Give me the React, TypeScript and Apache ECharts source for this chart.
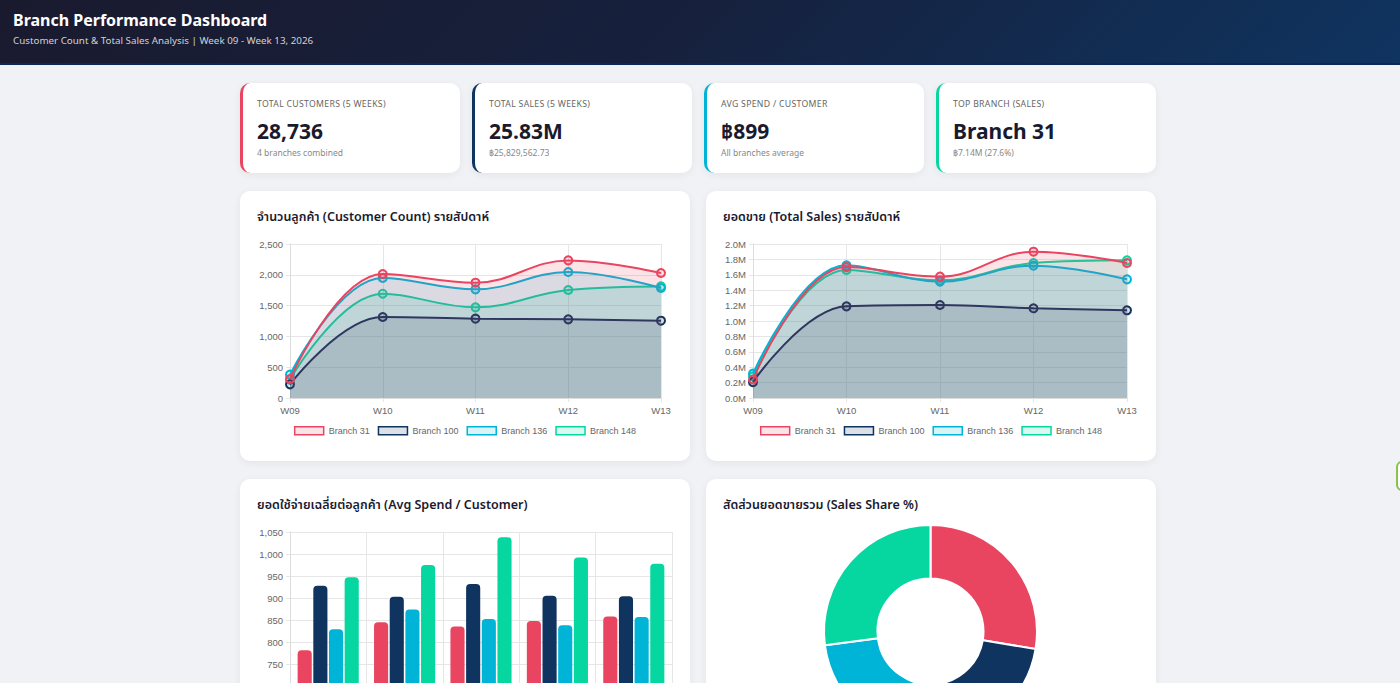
import React, { useEffect, useRef } from "react";
import * as echarts from "echarts";

const weeks = ["W09", "W10", "W11", "W12", "W13"];
const branches = ["Branch 31", "Branch 100", "Branch 136", "Branch 148"];
const branchColors = ["#e94560", "#0f3460", "#00b4d8", "#06d6a0"];
const branchFills = [
  "rgba(233,69,96,0.15)",
  "rgba(15,52,96,0.15)",
  "rgba(0,180,216,0.15)",
  "rgba(6,214,160,0.15)",
];

const customers31 = [308, 2013, 1872, 2234, 2029];
const customers100 = [222, 1315, 1288, 1277, 1255];
const customers136 = [379, 1948, 1764, 2045, 1785];
const customers148 = [298, 1693, 1472, 1753, 1812];

const sales31 = [240000, 1700000, 1576000, 1900000, 1753000];
const sales100 = [206000, 1190000, 1208000, 1165000, 1139000];
const sales136 = [316000, 1723000, 1511000, 1719000, 1541000];
const sales148 = [282000, 1662000, 1528000, 1753000, 1788000];

const avgSpend31 = [781, 845, 835, 848, 858];
const avgSpend100 = [928, 903, 932, 905, 904];
const avgSpend136 = [829, 874, 852, 838, 857];
const avgSpend148 = [947, 975, 1038, 992, 978];

const salesShare = [7138000, 4905000, 6800000, 6987000];

const customerTicks = { min: 0, max: 2500, interval: 500 };
const salesTicks = { min: 0, max: 2000000, interval: 200000 };
const spendTicks = { min: 700, max: 1050, interval: 50 };

const kpis = [
  { label: "TOTAL CUSTOMERS (5 WEEKS)", value: "28,736", sub: "4 branches combined", color: "#e94560" },
  { label: "TOTAL SALES (5 WEEKS)", value: "25.83M", sub: "฿25,829,562.73", color: "#0f3460" },
  { label: "AVG SPEND / CUSTOMER", value: "฿899", sub: "All branches average", color: "#00b4d8" },
  { label: "TOP BRANCH (SALES)", value: "Branch 31", sub: "฿7.14M (27.6%)", color: "#06d6a0" },
];

const UI_FONT = '"Segoe UI", "Noto Sans", "Noto Sans Thai", "Open Sans", sans-serif';
const CHART_FONT = '"Liberation Sans", Arial, Helvetica, sans-serif';
const GRID = "#e6e6e6";

const fmtComma = (v: number) => v.toLocaleString("en-US");

function axisCommon() {
  return {
    axisLine: { show: true, lineStyle: { color: "#dcdcdc", width: 1 } },
    axisTick: { show: true, length: 4, lineStyle: { color: GRID } },
    splitLine: { show: true, lineStyle: { color: GRID, width: 1 } },
  };
}

function lineOption(data: number[][], ticks: any, fmt: (v: number) => string, left: number) {
  return {
    animation: false,
    grid: { left, right: 29, top: 53, bottom: 63 },
    legend: {
      top: 230,
      left: "center",
      icon: "rect",
      itemWidth: 29,
      itemHeight: 8,
      itemGap: 8,
      textStyle: { color: "#666", fontSize: 9, fontFamily: CHART_FONT },
      data: branches.map((n, i) => ({
        name: n,
        itemStyle: { color: branchFills[i], borderColor: branchColors[i], borderWidth: 1.5 },
      })),
    },
    xAxis: {
      type: "category",
      data: weeks,
      boundaryGap: false,
      ...axisCommon(),
      axisLabel: { color: "#666", fontSize: 9.5, fontFamily: CHART_FONT, margin: 7 },
    },
    yAxis: {
      type: "value",
      min: ticks.min,
      max: ticks.max,
      interval: ticks.interval,
      ...axisCommon(),
      axisLabel: { color: "#666", fontSize: 9.5, fontFamily: CHART_FONT, margin: 7, formatter: fmt },
    },
    series: data.map((d, i) => ({
      type: "line",
      name: branches[i],
      data: d,
      smooth: 0.4,
      z: 5 - i,
      symbol: "circle",
      symbolSize: 8,
      lineStyle: { color: branchColors[i], width: 2 },
      itemStyle: { color: branchFills[i], borderColor: branchColors[i], borderWidth: 2 },
      areaStyle: { color: branchFills[i], origin: "start", opacity: 1 },
    })),
  };
}

function barOption() {
  const data = [avgSpend31, avgSpend100, avgSpend136, avgSpend148];
  return {
    animation: false,
    grid: { left: 50, right: 18, top: 53, bottom: 63 },
    xAxis: {
      type: "category",
      data: weeks,
      ...axisCommon(),
      axisLabel: { color: "#666", fontSize: 9.5, fontFamily: CHART_FONT, margin: 8 },
    },
    yAxis: {
      type: "value",
      min: spendTicks.min,
      max: spendTicks.max,
      interval: spendTicks.interval,
      ...axisCommon(),
      axisLabel: { color: "#666", fontSize: 9.5, fontFamily: CHART_FONT, margin: 7, formatter: fmtComma },
    },
    series: data.map((d, i) => ({
      type: "bar",
      name: branches[i],
      data: d,
      barCategoryGap: "20%",
      barGap: "11%",
      itemStyle: { color: branchColors[i], borderRadius: [4, 4, 0, 0] },
    })),
  };
}

function pieOption() {
  return {
    animation: false,
    series: [
      {
        type: "pie",
        radius: [53, 106.5],
        center: [224.5, 152.5],
        startAngle: 90,
        clockwise: true,
        label: { show: false },
        labelLine: { show: false },
        itemStyle: { borderColor: "#fff", borderWidth: 2 },
        data: branches.map((n, i) => ({ name: n, value: salesShare[i], itemStyle: { color: branchColors[i] } })),
      },
    ],
  };
}

function Chart({ option }: { option: any }) {
  const ref = useRef<HTMLDivElement>(null);
  useEffect(() => {
    if (!ref.current) return;
    const chart = echarts.init(ref.current, null, { renderer: "svg" });
    chart.setOption(option);
    return () => chart.dispose();
  }, [option]);
  return <div ref={ref} style={{ position: "absolute", left: 0, top: 0, width: 450, height: 270 }} />;
}

const cardStyle: React.CSSProperties = {
  position: "absolute",
  background: "#fff",
  borderRadius: 10,
  boxShadow: "0 2px 8px rgba(0,0,0,0.06)",
  overflow: "hidden",
};

function ChartCard({ x, y, title, option }: { x: number; y: number; title: string; option: any }) {
  return (
    <div style={{ ...cardStyle, left: x, top: y, width: 450, height: 270 }}>
      <Chart option={option} />
      <div
        style={{
          position: "absolute",
          left: 17,
          top: 18,
          fontFamily: UI_FONT,
          fontSize: 12.5,
          lineHeight: "16px",
          fontWeight: 600,
          color: "#1a1a2e",
          whiteSpace: "nowrap",
        }}
      >
        {title}
      </div>
    </div>
  );
}

const opt1 = lineOption([customers31, customers100, customers136, customers148], customerTicks, fmtComma, 50);
const opt2 = lineOption([sales31, sales100, sales136, sales148], salesTicks, (v: number) => (v / 1e6).toFixed(1) + "M", 47);
const opt3 = barOption();
const opt4 = pieOption();

export default function App() {
  useEffect(() => {
    document.body.style.margin = "0";
    document.body.style.overflow = "hidden";
    document.body.style.background = "#f0f2f5";
  }, []);
  const kpiX = [240, 472, 704, 936];
  return (
    <div style={{ position: "relative", width: 1400, height: 683, overflow: "hidden", background: "#f0f2f5", fontFamily: UI_FONT }}>
      <div
        style={{
          position: "absolute",
          left: 0,
          top: 0,
          width: 1400,
          height: 63,
          background: "linear-gradient(135deg, #1a1a2e 0%, #16213e 50%, #0f3460 100%)",
          borderBottom: "2px solid #08295a",
        }}
      >
        <div style={{ position: "absolute", left: 13, top: 8, fontSize: 16, lineHeight: "24px", fontWeight: 700, color: "#fff", whiteSpace: "nowrap" }}>
          Branch Performance Dashboard
        </div>
        <div style={{ position: "absolute", left: 13, top: 34, fontSize: 9.8, lineHeight: "14px", color: "rgba(255,255,255,0.8)", whiteSpace: "nowrap" }}>
          Customer Count &amp; Total Sales Analysis | Week 09 - Week 13, 2026
        </div>
      </div>

      {kpis.map((k, i) => (
        <div key={k.label} style={{ ...cardStyle, left: kpiX[i], top: 83, width: 220, height: 90, borderLeft: `3px solid ${k.color}`, boxSizing: "border-box" }}>
          <div style={{ position: "absolute", left: 14, top: 15, fontSize: 8.7, lineHeight: "12px", color: "#666", letterSpacing: 0.3, whiteSpace: "nowrap" }}>
            {k.label}
          </div>
          <div style={{ position: "absolute", left: 14, top: 35, fontSize: 21, lineHeight: "26px", fontWeight: 700, color: "#1a1a2e", whiteSpace: "nowrap" }}>
            {k.value}
          </div>
          <div style={{ position: "absolute", left: 14, top: 64, fontSize: 8.5, lineHeight: "12px", color: "#888", whiteSpace: "nowrap" }}>
            {k.sub}
          </div>
        </div>
      ))}

      <ChartCard x={240} y={191} title="จำนวนลูกค้า (Customer Count) รายสัปดาห์" option={opt1} />
      <ChartCard x={706} y={191} title="ยอดขาย (Total Sales) รายสัปดาห์" option={opt2} />
      <ChartCard x={240} y={479} title="ยอดใช้จ่ายเฉลี่ยต่อลูกค้า (Avg Spend / Customer)" option={opt3} />
      <ChartCard x={706} y={479} title="สัดส่วนยอดขายรวม (Sales Share %)" option={opt4} />

      <div style={{ position: "absolute", left: 1396, top: 461, width: 40, height: 26, border: "2px solid #8bc34a", borderRadius: 6, background: "#fff" }} />
    </div>
  );
}
